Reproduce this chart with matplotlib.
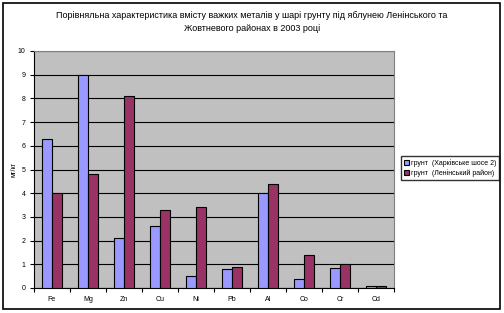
import numpy as np
import matplotlib
matplotlib.use('Agg')
import matplotlib.pyplot as plt
from matplotlib.patches import Rectangle

plt.rcParams['font.family'] = ['Liberation Sans', 'DejaVu Sans']

# Data
metals = ['Fe', 'Mg', 'Zn', 'Cu', 'Ni', 'Pb', 'Al', 'Co', 'Cr', 'Cd']
kharkiv = [6.3, 9.0, 2.1, 2.6, 0.5, 0.8, 4.0, 0.4, 0.85, 0.1]
lenin = [4.0, 4.8, 8.1, 3.3, 3.4, 0.9, 4.4, 1.4, 1.0, 0.1]
series_names = ['грунт  (Харківське шосе 2)', 'грунт  (Ленінський район)']
title = ('Порівняльна характеристика вмісту важких металів у шарі грунту під яблунею Ленінського та\n'
         'Жовтневого районах в 2003 році')

fig = plt.figure(figsize=(5.04, 3.13), dpi=100)
ax = fig.add_axes([34 / 504, 1 - 288 / 313, 360 / 504, 237 / 313])
ax.set_facecolor('#C0C0C0')

x = np.arange(len(metals))
w = 0.28
b1 = ax.bar(x - w / 2, kharkiv, w, color='#9999FF', edgecolor='black', linewidth=0.8,
            label=series_names[0], zorder=3)
b2 = ax.bar(x + w / 2, lenin, w, color='#993366', edgecolor='black', linewidth=0.8,
            label=series_names[1], zorder=3)

ax.set_xlim(-0.5, len(metals) - 0.5)
ax.set_ylim(0, 10)
ax.set_yticks(range(0, 11))
ax.yaxis.grid(True, color='black', linewidth=0.8, zorder=1)
ax.set_xticks(x)
ax.set_xticklabels(metals)
ax.set_xticks(np.arange(-0.5, len(metals)), minor=True)
ax.tick_params(axis='x', which='major', length=0, labelsize=5, pad=6)
ax.tick_params(axis='x', which='minor', length=3, width=0.8)
ax.tick_params(axis='y', length=3, width=0.8, labelsize=5, pad=3)
for s in ['top', 'right']:
    ax.spines[s].set_color('#808080')
for s in ['left', 'bottom']:
    ax.spines[s].set_linewidth(0.8)
ax.set_ylabel('мг/кг', fontsize=5)
ax.yaxis.set_label_coords(-17 / 360, 0.5)

fig.text(0.5, 1 - 22 / 313, title, ha='center', va='center', fontsize=6.5, linespacing=1.5)

fig.legend(handles=[b1, b2], loc='center left', bbox_to_anchor=(401 / 504, 1 - 168 / 313),
           fontsize=5, frameon=True, fancybox=False, edgecolor='black', handlelength=0.7,
           handleheight=0.7, handletextpad=0.3, borderpad=0.4, labelspacing=0.3,
           borderaxespad=0)

fig.patches.append(Rectangle((3 / 504, 1 - 309 / 313), 497 / 504, 306 / 313,
                             transform=fig.transFigure, fill=False, edgecolor='black',
                             linewidth=1.2))

fig.savefig('out.png', dpi=100)
